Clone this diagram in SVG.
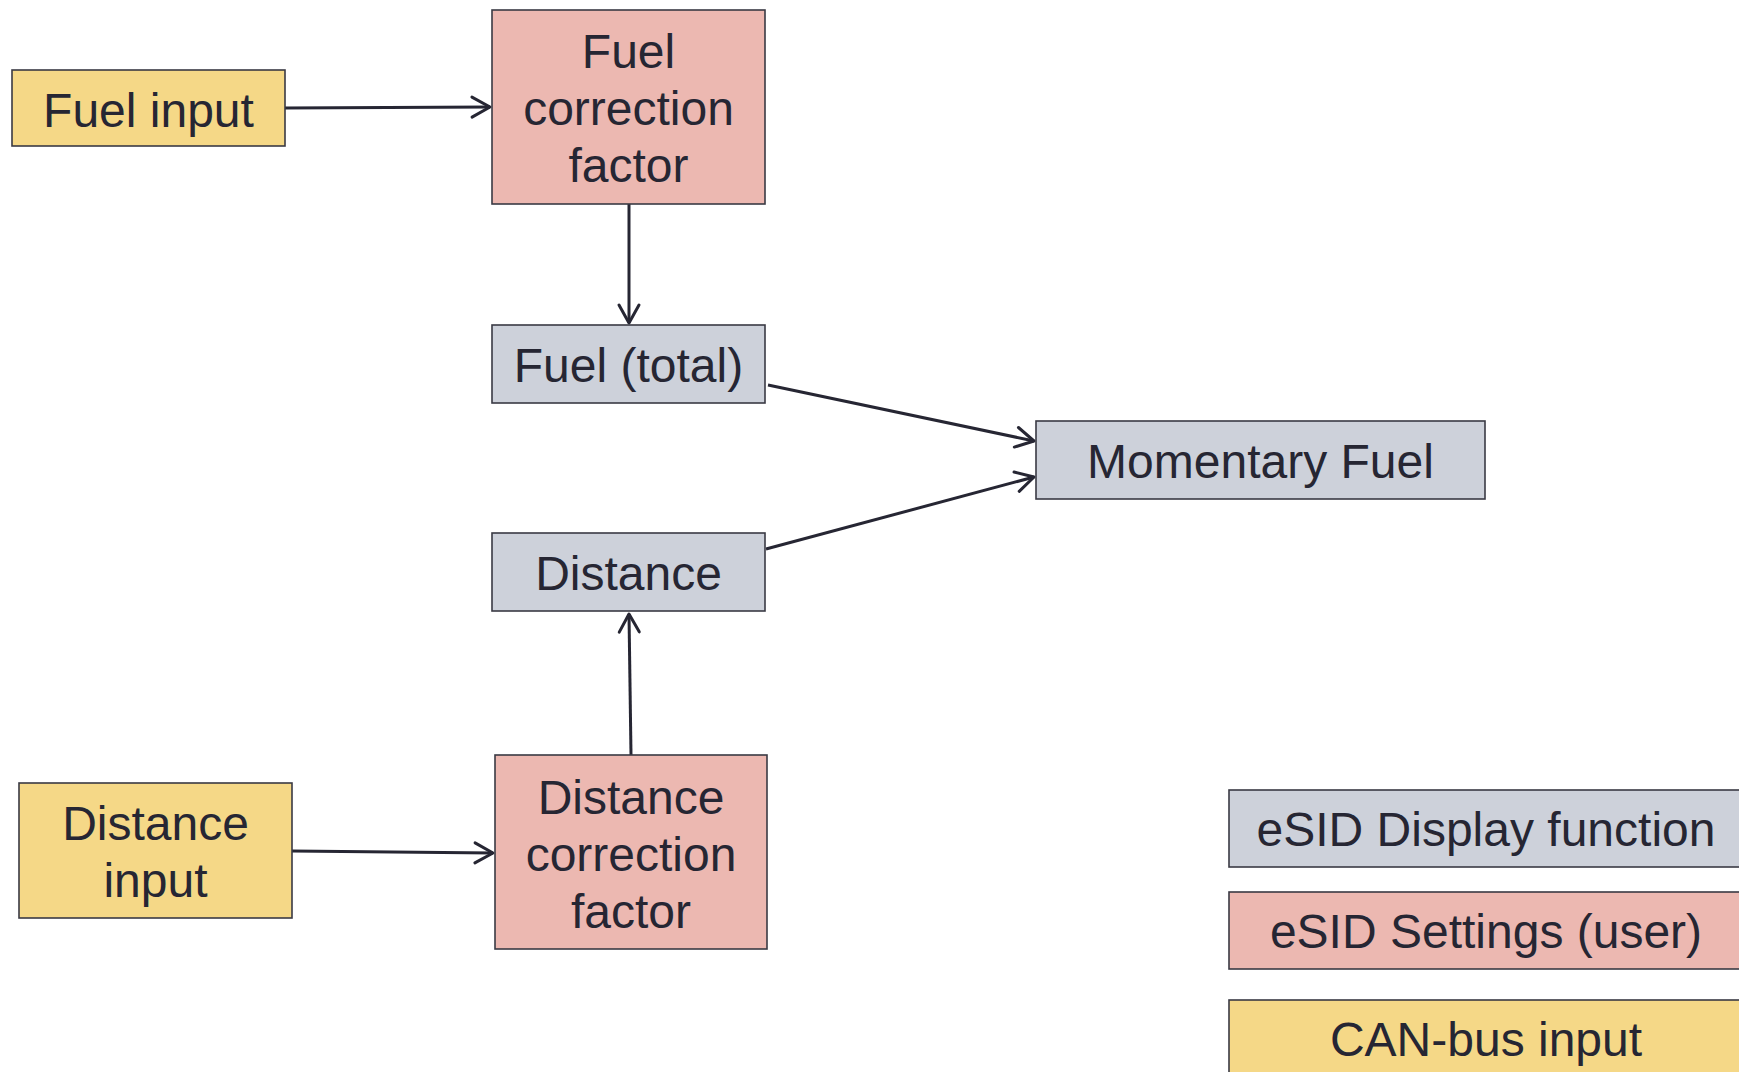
<svg xmlns="http://www.w3.org/2000/svg" width="1739" height="1072" viewBox="0 0 1739 1072">
<style>
.box{stroke:#3a3a44;stroke-width:1.6}
.disp{fill:#CDD1DA}
.set{fill:#ECB8B1}
.can{fill:#F5D887}
text{font-family:"Liberation Sans",Arial,sans-serif;font-size:48px;fill:#262633;text-anchor:middle}
.conn{stroke:#262633;stroke-width:3;fill:none;marker-end:url(#arr)}
</style>
<defs>
<marker id="arr" markerUnits="userSpaceOnUse" markerWidth="30" markerHeight="30" viewBox="-25 -15 30 30" refX="0" refY="0" orient="auto">
<path d="M-18,-10 L0,0 L-18,10" fill="none" stroke="#262633" stroke-width="3" stroke-linecap="round" stroke-linejoin="round"/>
</marker>
</defs>
<rect width="1739" height="1072" fill="#ffffff"/>
<g id="connectors">
<line class="conn" x1="285" y1="108" x2="490" y2="107"/>
<line class="conn" x1="629" y1="204" x2="629" y2="323"/>
<line class="conn" x1="768" y1="385" x2="1034" y2="441"/>
<line class="conn" x1="766" y1="549" x2="1034" y2="477"/>
<line class="conn" x1="631" y1="755" x2="629" y2="614"/>
<line class="conn" x1="292" y1="851" x2="493" y2="853"/>
</g>
<g id="fuel-input">
<rect class="box can" x="12" y="70" width="273" height="76"/>
<text x="148.5" y="127">Fuel input</text>
</g>
<g id="fuel-correction-factor">
<rect class="box set" x="492" y="10" width="273" height="194"/>
<text x="628.5" y="68">Fuel</text>
<text x="628.5" y="125">correction</text>
<text x="628.5" y="182">factor</text>
</g>
<g id="fuel-total">
<rect class="box disp" x="492" y="325" width="273" height="78"/>
<text x="628.5" y="382">Fuel (total)</text>
</g>
<g id="momentary-fuel">
<rect class="box disp" x="1036" y="421" width="449" height="78"/>
<text x="1260.5" y="478">Momentary Fuel</text>
</g>
<g id="distance">
<rect class="box disp" x="492" y="533" width="273" height="78"/>
<text x="628.5" y="590">Distance</text>
</g>
<g id="distance-input">
<rect class="box can" x="19" y="783" width="273" height="135"/>
<text x="155.5" y="840">Distance</text>
<text x="155.5" y="897">input</text>
</g>
<g id="distance-correction-factor">
<rect class="box set" x="495" y="755" width="272" height="194"/>
<text x="631" y="814">Distance</text>
<text x="631" y="871">correction</text>
<text x="631" y="928">factor</text>
</g>
<g id="legend-display">
<rect class="box disp" x="1229" y="790" width="520" height="77"/>
<text x="1486" y="846">eSID Display function</text>
</g>
<g id="legend-settings">
<rect class="box set" x="1229" y="892" width="520" height="77"/>
<text x="1486" y="948">eSID Settings (user)</text>
</g>
<g id="legend-can">
<rect class="box can" x="1229" y="1000" width="520" height="90"/>
<text x="1486" y="1056">CAN-bus input</text>
</g>
</svg>
